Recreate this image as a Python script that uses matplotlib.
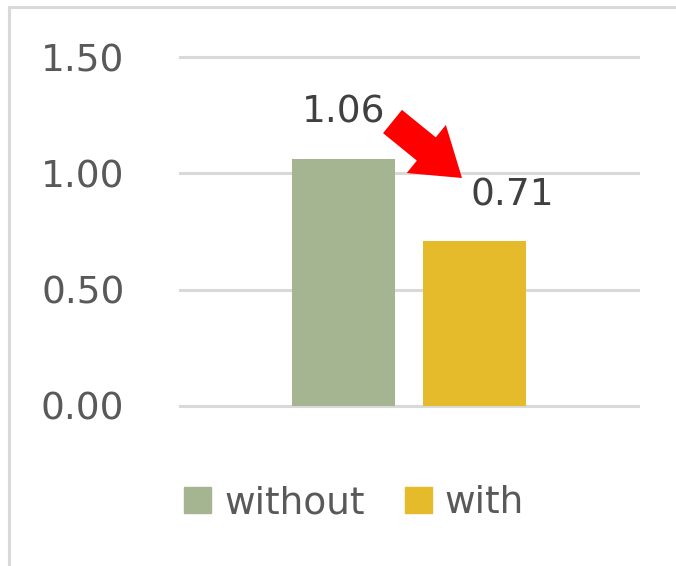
import matplotlib
matplotlib.use("Agg")
import matplotlib.pyplot as plt
from matplotlib import patches as mpatches
from matplotlib.lines import Line2D

series = ["without", "with"]
values = [1.06, 0.71]
labels = ["1.06", "0.71"]
colors = ["#A5B592", "#E5BB2B"]
yticks = [0.0, 0.5, 1.0, 1.5]

plt.rcParams['font.family'] = ['DejaVu Sans']
fig = plt.figure(figsize=(6.76, 5.66), dpi=100)
fig.patch.set_facecolor("white")

# chart border (top and left only visible in the reference)
fig.add_artist(Line2D([9/676, 9/676], [0, 1 - 7/566], transform=fig.transFigure, color="#D9D9D9", lw=2.2))
fig.add_artist(Line2D([9/676, 1], [1 - 7/566, 1 - 7/566], transform=fig.transFigure, color="#D9D9D9", lw=2.2))

ax = fig.add_axes([180/676, 1 - 406/566, 458/676, 349/566])
ax.set_xlim(-0.5, 0.5)
ax.set_ylim(0, 1.5)
w = 0.225
xs = [-0.143, 0.143]
for x, v, c, s in zip(xs, values, colors, series):
    ax.bar(x, v, width=w, color=c, label=s, zorder=3)

ax.set_yticks(yticks)
ax.set_yticklabels(["%.2f" % t for t in yticks])
ax.tick_params(axis="y", length=0, pad=40, labelsize=27, labelcolor="#595959")
ax.set_xticks([])
for sp in ax.spines.values():
    sp.set_visible(False)
ax.yaxis.grid(True, color="#D9D9D9", lw=2.2, zorder=0)
for gl in ax.get_ygridlines():
    gl.set_clip_on(False)
ax.set_axisbelow(True)

# data labels
ax.annotate(labels[0], (xs[0], values[0]), xytext=(0, 47), textcoords="offset pixels",
            ha="center", va="center", fontsize=27, color="#404040")
ax.annotate(labels[1], (xs[1], values[1]), xytext=(38, 45), textcoords="offset pixels",
            ha="center", va="center", fontsize=27, color="#404040")

# red arrow overlay, pixel coordinates
ov = fig.add_axes([0, 0, 1, 1])
ov.set_xlim(0, 676)
ov.set_ylim(566, 0)
ov.axis("off")
ov.patch.set_alpha(0)
ov.add_patch(mpatches.FancyArrow(392.5, 121.5, 69.5, 56.5, width=30, head_width=62, head_length=46,
                                 length_includes_head=True, color="#FF0000", lw=0))

handles = [mpatches.Patch(color=c, label=s) for c, s in zip(colors, series)]
fig.legend(handles=handles, loc="center", bbox_to_anchor=(354/676, 1 - 503/566), ncol=2,
           frameon=False, fontsize=27, labelcolor="#595959", handlelength=0.72, handleheight=0.72,
           handletextpad=0.35, columnspacing=1.07)

fig.savefig("out.png", dpi=100)
